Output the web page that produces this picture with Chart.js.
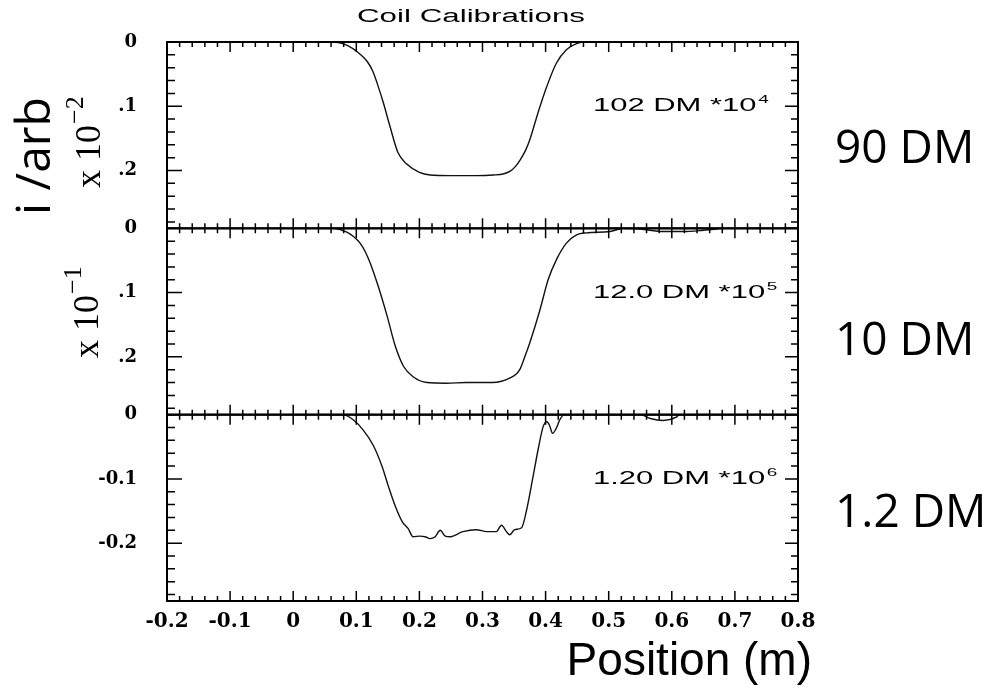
<!DOCTYPE html>
<html><head><meta charset="utf-8">
<script src="https://cdn.jsdelivr.net/npm/chart.js@4.4.1/dist/chart.umd.min.js"></script>
<style>html,body{margin:0;padding:0;background:#fff;}#wrap{width:991px;height:688px;position:relative;}</style>
</head><body><div id="wrap"><canvas id="c" width="991" height="688"></canvas></div>
<script>
// ---- data ----
const xTickValues = [-0.2,-0.1,0,0.1,0.2,0.3,0.4,0.5,0.6,0.7,0.8];
const xTickLabels = ["-0.2","-0.1","0","0.1","0.2","0.3","0.4","0.5","0.6","0.7","0.8"];
const yTickValues = [0,-0.1,-0.2];
const yTickLabels90 = ["0",".1",".2"];
const yTickLabels10 = ["0",".1",".2"];
const yTickLabels12 = ["0","-0.1","-0.2"];
const yMin = -0.29, yMax = 0;

const pos90 = [0.04,0.063,0.08,0.094,0.106,0.117,0.126,0.133,0.143,0.153,0.166,0.18,0.2,0.217,0.25,0.29,0.317,0.334,0.344,0.352,0.36,0.368,0.375,0.388,0.402,0.417,0.433,0.45,0.465,0.5];
const val90 = [0,0,-0.003,-0.01,-0.019,-0.03,-0.045,-0.064,-0.095,-0.13,-0.172,-0.19,-0.203,-0.207,-0.208,-0.208,-0.207,-0.205,-0.201,-0.194,-0.183,-0.169,-0.152,-0.11,-0.069,-0.033,-0.012,-0.002,0,0];

const pos10 = [0.04,0.063,0.085,0.096,0.106,0.114,0.122,0.135,0.149,0.162,0.175,0.19,0.212,0.243,0.274,0.316,0.33,0.343,0.352,0.359,0.367,0.375,0.391,0.404,0.417,0.433,0.449,0.465,0.502,0.523,0.55,0.586,0.618,0.65,0.68];
const val10 = [0,0,-0.006,-0.013,-0.023,-0.036,-0.054,-0.091,-0.137,-0.184,-0.215,-0.231,-0.24,-0.241,-0.24,-0.24,-0.238,-0.233,-0.228,-0.22,-0.2,-0.178,-0.127,-0.08,-0.049,-0.023,-0.01,-0.007,-0.005,0,-0.001,-0.005,-0.005,-0.003,0];

const pos12 = [0.05,0.079,0.095,0.111,0.127,0.141,0.151,0.162,0.173,0.182,0.19,0.201,0.209,0.217,0.225,0.233,0.241,0.248,0.269,0.29,0.307,0.322,0.33,0.338,0.343,0.351,0.362,0.37,0.38,0.388,0.396,0.402,0.406,0.411,0.417,0.422,0.43,0.5,0.55,0.566,0.586,0.607,0.612,0.65];
const val12 = [0,0,-0.008,-0.024,-0.048,-0.081,-0.112,-0.143,-0.167,-0.177,-0.19,-0.189,-0.19,-0.193,-0.19,-0.18,-0.189,-0.19,-0.182,-0.179,-0.182,-0.182,-0.172,-0.182,-0.187,-0.179,-0.176,-0.148,-0.097,-0.055,-0.019,-0.011,-0.016,-0.029,-0.021,-0.009,0,0,0,-0.006,-0.009,-0.004,0,0];

const panelIds = ["y90","y10","y12"];
const annotMain = ["102 DM *10","12.0 DM *10","1.20 DM *10"];
const annotExp = ["4","5","6"];
const sideLabels = ["90 DM","10 DM","1.2 DM"];
const titleText = "Coil Calibrations";
const xTitle = "Position (m)";
const yTitle = "i /arb";
const scaleNotes = [["x 10","\u22122"],["x 10","\u22121"]];

// ---- helpers ----
const pts = (xs, ys) => xs.map((x,i)=>({x, y: ys[i]}));
function yAxis(labels){
  return {
    type:'linear', position:'left', stack:'panels', stackWeight:1,
    min:yMin, max:yMax,
    afterBuildTicks: s => { s.ticks = yTickValues.map(v=>({value:v})); },
    afterFit: s => { s.width = 167; },
    ticks:{ callback:(v,i)=>labels[i], color:'#000', padding:22,
      font:{family:'DejaVu Serif', size:18, weight:'bold'} },
    grid:{display:false}, border:{display:false}
  };
}

const sideBaselines = [163, 355, 527];

const decor = {
  id:'decor',
  afterDraw(chart){
    const ctx = chart.ctx, ca = chart.chartArea, xs = chart.scales.x;
    ctx.save();
    ctx.strokeStyle = '#000'; ctx.fillStyle = '#000';
    panelIds.forEach((id, i) => {
      const ys = chart.scales[id];
      const top = ys.getPixelForValue(yMax), bot = ys.getPixelForValue(yMin);
      ctx.lineWidth = 2;
      ctx.strokeRect(ca.left, top, ca.right - ca.left, bot - top);
      ctx.lineWidth = 1.5;
      ctx.beginPath();
      for (let k = 0; k <= 50; k++) {
        const px = xs.getPixelForValue(-0.2 + k*0.02);
        const L = (k % 5 === 0) ? 10 : 5;
        ctx.moveTo(px, top); ctx.lineTo(px, top + L);
        ctx.moveTo(px, bot); ctx.lineTo(px, bot - L);
      }
      for (let k = 0; k <= 14; k++) {
        const py = ys.getPixelForValue(-k*0.02);
        const major = k % 5 === 0;
        ctx.moveTo(ca.left, py); ctx.lineTo(ca.left + (major ? 15 : 8), py);
        ctx.moveTo(ca.right, py); ctx.lineTo(ca.right - (major ? 13 : 7), py);
      }
      ctx.stroke();

      // panel annotation (stretched)
      const ay = ys.getPixelForValue(-0.1);
      ctx.save();
      ctx.translate(593, ay);
      ctx.scale(1.72, 1);
      ctx.textBaseline = 'middle'; ctx.textAlign = 'left';
      ctx.font = '18px "Liberation Sans"';
      ctx.fillText(annotMain[i], 0, 0);
      const w = ctx.measureText(annotMain[i]).width;
      ctx.font = '11px "Liberation Sans"';
      ctx.fillText(annotExp[i], w + 1, -6);
      ctx.restore();

      // side label
      ctx.font = '46px "Open Sans"';
      ctx.textAlign = 'left'; ctx.textBaseline = 'alphabetic';
      ctx.fillText(sideLabels[i], 835, sideBaselines[i]);
    });

    // title
    ctx.save();
    ctx.translate(357, 17);
    ctx.scale(1.74, 1);
    ctx.font = '18px "Liberation Sans"';
    ctx.textBaseline = 'middle'; ctx.textAlign = 'left';
    ctx.fillText(titleText, 0, 0);
    ctx.restore();

    // x title
    ctx.font = '46px "Liberation Sans"';
    ctx.textAlign = 'right'; ctx.textBaseline = 'alphabetic';
    ctx.fillText(xTitle, 812, 675);

    // y title rotated
    ctx.save();
    ctx.translate(50, 215);
    ctx.rotate(-Math.PI/2);
    ctx.font = '48px "Open Sans"';
    ctx.textAlign = 'left'; ctx.textBaseline = 'alphabetic';
    ctx.fillText(yTitle, 0, 0);
    ctx.restore();

    // scale notes rotated
    const notePos = [[100, 188],[98, 358]];
    scaleNotes.forEach((n, j) => {
      ctx.save();
      ctx.translate(notePos[j][0], notePos[j][1]);
      ctx.rotate(-Math.PI/2);
      ctx.textAlign = 'left'; ctx.textBaseline = 'alphabetic';
      ctx.font = '36px "Liberation Serif"';
      ctx.fillText(n[0], 0, 0);
      const w = ctx.measureText(n[0]).width;
      ctx.font = '26px "Liberation Serif"';
      ctx.fillText(n[1], w + 1, -17);
      ctx.restore();
    });
    ctx.restore();
  }
};

const lineStyle = { borderColor:'#111', borderWidth:1.4, pointRadius:0, fill:false, cubicInterpolationMode:'monotone' };

new Chart(document.getElementById('c'), {
  type:'line',
  data:{ datasets:[
    Object.assign({label:'102 DM', data:pts(pos90,val90), yAxisID:'y90'}, lineStyle),
    Object.assign({label:'12.0 DM', data:pts(pos10,val10), yAxisID:'y10'}, lineStyle),
    Object.assign({label:'1.20 DM', data:pts(pos12,val12), yAxisID:'y12'}, lineStyle)
  ]},
  options:{
    responsive:false, animation:false, devicePixelRatio:1,
    layout:{ padding:{ top:42, right:193, left:0, bottom:0 } },
    plugins:{ legend:{display:false}, tooltip:{enabled:false}, title:{display:false} },
    scales:{
      x:{ type:'linear', position:'bottom', min:-0.2, max:0.8,
        afterBuildTicks: s => { s.ticks = xTickValues.map(v=>({value:v})); },
        afterFit: s => { s.height = 87; },
        ticks:{ callback:(v,i)=>xTickLabels[i], color:'#000', padding:1, maxRotation:0, autoSkip:false,
          font:{family:'DejaVu Serif', size:20, weight:'bold'} },
        grid:{display:false}, border:{display:false} },
      y12: yAxis(yTickLabels12),
      y10: yAxis(yTickLabels10),
      y90: yAxis(yTickLabels90)
    }
  },
  plugins:[decor]
});
</script></body></html>
